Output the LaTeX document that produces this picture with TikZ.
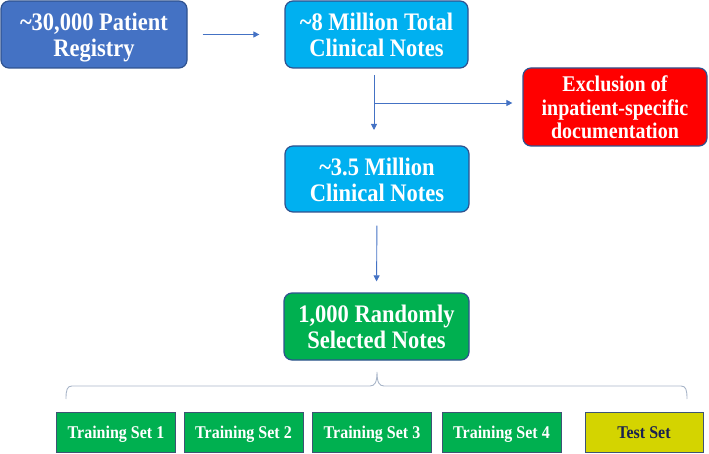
\documentclass[tikz,border=0pt]{standalone}
\usepackage{fontspec}
\setmainfont{Liberation Serif}
\usetikzlibrary{arrows.meta}
\definecolor{regblue}{HTML}{4472C4}
\definecolor{cyanbox}{HTML}{00B0F0}
\definecolor{redbox}{HTML}{FF0000}
\definecolor{greenbox}{HTML}{00B050}
\definecolor{yellowbox}{HTML}{D4D400}
\definecolor{edgeblue}{HTML}{2F528F}
\definecolor{edgeslate}{HTML}{3E5474}
\definecolor{navytext}{HTML}{1A2150}
\definecolor{bracecol}{HTML}{A9B6C9}
\newcommand{\tallt}[2][-4pt]{\raisebox{#1}[\height][\depth]{\scalebox{1}[1.12]{\begin{tabular}{@{}c@{}}#2\end{tabular}}}}
\newcommand{\tl}{\symbol{126}}
\tikzset{
  bigbox/.style={draw=edgeblue, line width=1.2pt, rounded corners=8pt, text=white,
    font=\fontsize{22.5}{23.4}\selectfont\bfseries, inner sep=0pt},
  excbox/.style={draw=edgeblue, line width=1.2pt, rounded corners=8pt, text=white, fill=redbox,
    font=\fontsize{20}{21}\selectfont\bfseries, inner sep=0pt,
    minimum width=184pt, minimum height=78pt},
  setbox/.style={draw=edgeslate, line width=1pt, text=white, fill=greenbox,
    font=\fontsize{16}{19}\selectfont\bfseries, inner sep=0pt,
    minimum width=119pt, minimum height=40pt},
  arr/.style={draw=regblue, line width=0.9pt, -{Triangle[length=6pt,width=6pt]}},
}
\begin{document}
\begin{tikzpicture}[x=1pt,y=-1pt]
\useasboundingbox (0,0) rectangle (709,454);
\node[bigbox, fill=regblue, minimum width=186pt, minimum height=67pt] (reg) at (94,34.5) {\tallt{\tl30,000 Patient\\Registry}};
\node[bigbox, fill=cyanbox, minimum width=183pt, minimum height=67pt] (tot) at (376.5,34.5) {\tallt{\tl8 Million Total\\Clinical Notes}};
\node[excbox] (exc) at (615,107) {\tallt[-3.5pt]{Exclusion of\\inpatient-specific\\documentation}};
\node[bigbox, fill=cyanbox, minimum width=184pt, minimum height=66pt] (mid) at (377,179) {\tallt{\tl3.5 Million\\Clinical Notes}};
\node[bigbox, fill=greenbox, minimum width=185pt, minimum height=67pt] (sel) at (376.5,326.5) {\tallt{1,000 Randomly\\Selected Notes}};
\node[setbox] (ts1) at (116,432) {\tallt[-2pt]{Training Set 1}};
\node[setbox] (ts2) at (243.5,432) {\tallt[-2pt]{Training Set 2}};
\node[setbox] (ts3) at (372,432) {\tallt[-2pt]{Training Set 3}};
\node[setbox] (ts4) at (501.5,432) {\tallt[-2pt]{Training Set 4}};
\node[setbox, fill=yellowbox, draw=edgeslate, text=navytext, minimum width=118pt] (test) at (644,432) {\tallt[-2pt]{Test Set}};
% connectors
\draw[arr, shorten <=15pt, shorten >=25pt] (reg.east) -- (tot.west);
\coordinate (top) at (374,68);
\coordinate (bot) at (374,146);
\coordinate (br) at (374,103);
\draw[arr, shorten <=7pt, shorten >=16pt] (top) -- (bot);
\draw[arr, shorten >=10pt] (br) -- (br -| exc.west);
\draw[arr, shorten <=13pt, shorten >=11pt] (mid.south) -- (sel.north);
% brace
\coordinate (bl) at (66,399);
\coordinate (bt) at (377,372);
\coordinate (bre) at (687,399);
\draw[bracecol, line width=0.9pt] (bl) .. controls (66,390) and (67,386) .. (72,386)
  -- (370,386) .. controls (375,386) and (377,382) .. (bt)
  .. controls (377,382) and (379,386) .. (384,386)
  -- (681,386) .. controls (686,386) and (687,390) .. (bre);
\end{tikzpicture}
\end{document}
